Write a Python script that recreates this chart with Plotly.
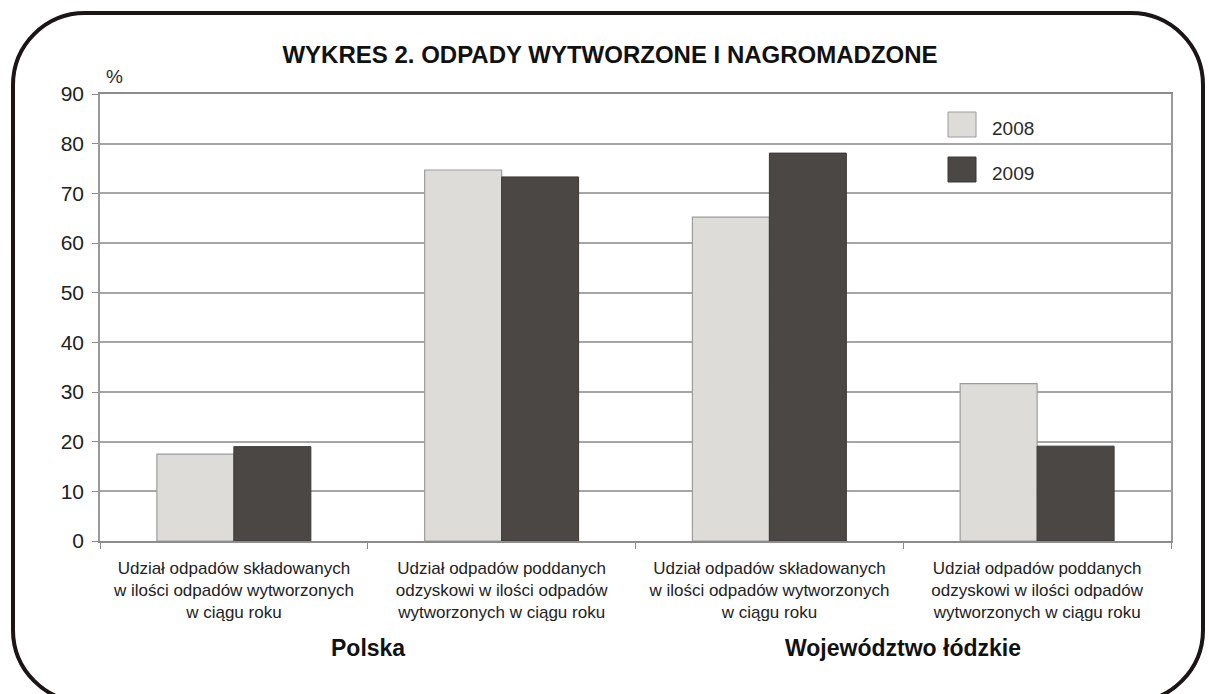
import plotly.graph_objects as go

categories = ["c1", "c2", "c3", "c4"]
tick_labels = [
    "Udział odpadów składowanych<br>w ilości odpadów wytworzonych<br>w ciągu roku",
    "Udział odpadów poddanych<br>odzyskowi w ilości odpadów<br>wytworzonych w ciągu roku",
    "Udział odpadów składowanych<br>w ilości odpadów wytworzonych<br>w ciągu roku",
    "Udział odpadów poddanych<br>odzyskowi w ilości odpadów<br>wytworzonych w ciągu roku",
]
values_2008 = [17.5, 74.7, 65.2, 31.7]
values_2009 = [19.0, 73.3, 78.1, 19.1]
series_names = ["2008", "2009"]
group_labels = ["Polska", "Województwo łódzkie"]
group_positions = [0.5, 2.5]
y_ticks = [0, 10, 20, 30, 40, 50, 60, 70, 80, 90]

W, H = 1209, 694
ML, MR, MT, MB = 100, 38, 94, 153
PW, PH = W - ML - MR, H - MT - MB

def px(x):
    return (x - ML) / PW

def py(y):
    return (H - MB - y) / PH

FONT = "Liberation Sans, Arial, Helvetica, sans-serif"
light = "#dddcd8"
dark = "#4b4744"

fig = go.Figure()
fig.add_trace(go.Bar(x=categories, y=values_2008, name=series_names[0],
                     marker=dict(color=light, line=dict(color="#9c9c9c", width=1.2)),
                     showlegend=False))
fig.add_trace(go.Bar(x=categories, y=values_2009, name=series_names[1],
                     marker=dict(color=dark, line=dict(color="#3c3836", width=1)),
                     showlegend=False))

# rounded frame around the whole chart
L, R, T, B, r = 13, 1203, 13, 702, 72
k = 0.5523 * r
path = (
    f"M {px(L + r)},{py(T)} L {px(R - r)},{py(T)} "
    f"C {px(R - r + k)},{py(T)} {px(R)},{py(T + r - k)} {px(R)},{py(T + r)} "
    f"L {px(R)},{py(B - r)} "
    f"C {px(R)},{py(B - r + k)} {px(R - r + k)},{py(B)} {px(R - r)},{py(B)} "
    f"L {px(L + r)},{py(B)} "
    f"C {px(L + r - k)},{py(B)} {px(L)},{py(B - r + k)} {px(L)},{py(B - r)} "
    f"L {px(L)},{py(T + r)} "
    f"C {px(L)},{py(T + r - k)} {px(L + r - k)},{py(T)} {px(L + r)},{py(T)} Z"
)
shapes = [dict(type="path", xref="paper", yref="paper", path=path,
               line=dict(color="#1c1515", width=4), layer="above")]

# legend boxes
legend_items = [(series_names[0], light, "#9c9c9c", 112), (series_names[1], dark, "#3c3836", 157)]
annotations = []
for name, col, lc, top in legend_items:
    shapes.append(dict(type="rect", xref="paper", yref="paper",
                       x0=px(948), x1=px(976), y0=py(top + 25), y1=py(top),
                       fillcolor=col, line=dict(color=lc, width=1)))
    annotations.append(dict(text=name, xref="paper", yref="paper",
                            x=px(990), y=py(top + 16), xanchor="left", yanchor="middle",
                            showarrow=False, font=dict(family=FONT, size=19, color="#2a2a2a")))

for lbl, pos in zip(group_labels, group_positions):
    annotations.append(dict(text=f"<b>{lbl}</b>", x=pos, xref="x", y=py(648), yref="paper",
                            showarrow=False, xanchor="center", yanchor="middle",
                            font=dict(family=FONT, size=23, color="#111111")))

annotations.append(dict(text="%", xref="paper", yref="paper", x=px(114), y=py(76),
                        showarrow=False, xanchor="center", yanchor="middle",
                        font=dict(family=FONT, size=19, color="#2a2a2a")))

fig.update_layout(
    width=W, height=H,
    margin=dict(l=ML, r=MR, t=MT, b=MB),
    paper_bgcolor="white", plot_bgcolor="white",
    barmode="group", bargap=0.425, bargroupgap=0,
    title=dict(text="<b>WYKRES 2. ODPADY WYTWORZONE I NAGROMADZONE</b>",
               x=px(610), xref="paper", xanchor="center",
               y=1 - 55 / H, yanchor="middle",
               font=dict(family=FONT, size=24, color="#111111")),
    shapes=shapes,
    annotations=annotations,
    xaxis=dict(type="category", tickvals=categories, ticktext=tick_labels,
               tickson="boundaries", ticks="outside", ticklen=6, tickcolor="#8c8c8c",
               showline=True, linecolor="#8c8c8c", linewidth=1.5, mirror=True,
               ticklabelstandoff=11,
               tickfont=dict(family=FONT, size=17, color="#222222"),
               range=[-0.5, 3.5]),
    yaxis=dict(range=[0, 90], tickvals=y_ticks, ticks="outside", ticklen=6,
               tickcolor="#8c8c8c", showline=True, linecolor="#9a9a9a", linewidth=1.5,
               mirror=True, showgrid=True, gridcolor="#a6a6a6", gridwidth=1.5,
               zeroline=False, ticklabelstandoff=4,
               tickfont=dict(family=FONT, size=21, color="#222222")),
)

fig.write_html(
    "out.html",
    config={"displayModeBar": False},
    post_script="document.body.style.margin='0';document.body.style.overflow='hidden';",
)
